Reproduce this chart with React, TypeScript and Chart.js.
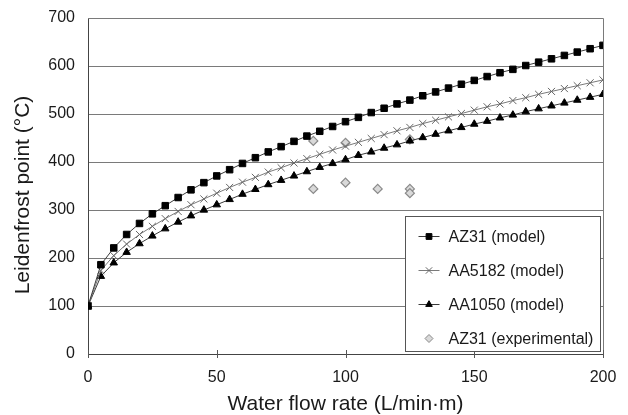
import React, { useEffect, useRef } from 'react';
import { Chart, registerables } from 'chart.js';

Chart.register(...registerables);

// Water flow rate (L/min·m) for model curves
const modelFlow = [0, 5, 10, 15, 20, 25, 30, 35, 40, 45, 50, 55, 60, 65, 70, 75, 80, 85, 90, 95, 100,
  105, 110, 115, 120, 125, 130, 135, 140, 145, 150, 155, 160, 165, 170, 175, 180, 185, 190, 195, 200];

const az31Model = [100, 186, 221, 249, 272, 292, 309, 326, 342, 357, 371, 384, 397, 409, 421, 432, 443, 454, 464, 474, 484,
  493, 503, 512, 521, 529, 538, 546, 554, 562, 570, 578, 586, 593, 601, 608, 615, 622, 629, 636, 643];

const aa5182Model = [100, 174, 205, 229, 249, 266, 282, 297, 311, 323, 335, 347, 358, 368, 379, 388, 398, 407, 416, 425, 433,
  441, 449, 457, 465, 472, 480, 487, 494, 501, 508, 515, 521, 528, 534, 541, 547, 553, 559, 565, 571];

const aa1050Model = [100, 162, 190, 212, 230, 246, 261, 275, 288, 300, 311, 322, 333, 343, 353, 362, 371, 380, 389, 397, 405,
  414, 421, 429, 436, 444, 451, 458, 465, 472, 479, 485, 492, 498, 505, 511, 517, 523, 529, 535, 541];

const expFlow = [87.5, 87.5, 100, 100, 112.5, 125, 125, 125];
const az31Exp = [444, 344, 440, 357, 344, 447, 344, 335];

const seriesLabels = ['AZ31 (model)', 'AA5182 (model)', 'AA1050 (model)', 'AZ31 (experimental)'];
const xTickValues = [0, 50, 100, 150, 200];
const yTickValues = [0, 100, 200, 300, 400, 500, 600, 700];
const xTitle = 'Water flow rate (L/min·m)';
const yTitle = 'Leidenfrost point (°C)';

const FONT = '"Liberation Sans", Arial, sans-serif';

function toPoints(xs: number[], ys: number[]) {
  return xs.map((x, i) => ({ x, y: ys[i] }));
}

function drawMarker(ctx: CanvasRenderingContext2D, style: string, x: number, y: number, r: number, fill: string, stroke: string) {
  ctx.save();
  ctx.fillStyle = fill;
  ctx.strokeStyle = stroke;
  ctx.lineWidth = 1;
  ctx.beginPath();
  if (style === 'rect') {
    const s = r * Math.SQRT1_2;
    ctx.rect(x - s, y - s, 2 * s, 2 * s);
    ctx.fill();
    ctx.stroke();
  } else if (style === 'triangle') {
    ctx.moveTo(x, y - r);
    ctx.lineTo(x + r * 0.866, y + r * 0.5);
    ctx.lineTo(x - r * 0.866, y + r * 0.5);
    ctx.closePath();
    ctx.fill();
    ctx.stroke();
  } else if (style === 'crossRot') {
    const s = r * Math.SQRT1_2;
    ctx.moveTo(x - s, y - s);
    ctx.lineTo(x + s, y + s);
    ctx.moveTo(x - s, y + s);
    ctx.lineTo(x + s, y - s);
    ctx.stroke();
  } else if (style === 'rectRot') {
    ctx.moveTo(x, y - r);
    ctx.lineTo(x + r, y);
    ctx.lineTo(x, y + r);
    ctx.lineTo(x - r, y);
    ctx.closePath();
    ctx.fill();
    ctx.stroke();
  }
  ctx.restore();
}

const framePlugin = {
  id: 'framePlugin',
  beforeDatasetsDraw(chart: any) {
    const { ctx, chartArea } = chart;
    const { left, right, top, bottom } = chartArea;
    ctx.save();
    ctx.strokeStyle = '#7a7a7a';
    ctx.lineWidth = 1;
    ctx.beginPath();
    ctx.moveTo(left, Math.round(top) + 0.5);
    ctx.lineTo(Math.round(right) + 0.5, Math.round(top) + 0.5);
    ctx.lineTo(Math.round(right) + 0.5, bottom);
    ctx.stroke();
    // x tick marks crossing the axis
    const xs = chart.scales.x;
    ctx.strokeStyle = '#555';
    ctx.beginPath();
    xTickValues.forEach((v) => {
      const px = Math.round(xs.getPixelForValue(v)) + 0.5;
      ctx.moveTo(px, bottom - 4);
      ctx.lineTo(px, bottom + 4);
    });
    ctx.stroke();
    ctx.restore();
  },
  afterDraw(chart: any) {
    const { ctx, chartArea } = chart;
    // y axis title
    ctx.save();
    ctx.fillStyle = '#1a1a1a';
    ctx.font = '21px ' + FONT;
    ctx.textAlign = 'center';
    ctx.textBaseline = 'middle';
    ctx.translate(23, (chartArea.top + chartArea.bottom) / 2 + 9);
    ctx.rotate(-Math.PI / 2);
    ctx.fillText(yTitle, 0, 0);
    ctx.restore();

    // legend box
    const w = 195;
    const h = 135;
    const bx = Math.round(chartArea.right) - 3 - w + 0.5;
    const by = Math.round(chartArea.bottom) - 3 - h + 0.5;
    ctx.save();
    ctx.fillStyle = '#ffffff';
    ctx.fillRect(bx, by, w, h);
    ctx.strokeStyle = '#555';
    ctx.lineWidth = 1;
    ctx.strokeRect(bx, by, w, h);
    ctx.font = '16px ' + FONT;
    ctx.textBaseline = 'middle';
    ctx.textAlign = 'left';
    chart.data.datasets.forEach((ds: any, i: number) => {
      const cy = by + 20 + i * 34;
      const lx0 = bx + 13;
      const lx1 = bx + 34;
      const cx = (lx0 + lx1) / 2;
      if (ds.showLine) {
        ctx.strokeStyle = ds.borderColor;
        ctx.lineWidth = 1;
        ctx.beginPath();
        ctx.moveTo(lx0, cy);
        ctx.lineTo(lx1, cy);
        ctx.stroke();
      }
      drawMarker(ctx, ds.pointStyle, cx, cy, ds.pointRadius - 0.5, ds.pointBackgroundColor, ds.pointBorderColor);
      ctx.fillStyle = '#1a1a1a';
      ctx.fillText(ds.label, bx + 43, cy + 1);
    });
    ctx.restore();
  },
};

export default function App() {
  const canvasRef = useRef<HTMLCanvasElement>(null);

  useEffect(() => {
    const canvas = canvasRef.current;
    if (!canvas) return;
    const chart = new Chart(canvas, {
      type: 'scatter',
      data: {
        datasets: [
          {
            label: seriesLabels[0],
            data: toPoints(modelFlow, az31Model),
            showLine: true,
            borderColor: '#3a3a3a',
            borderWidth: 1,
            pointStyle: 'rect',
            pointRadius: 4.6,
            pointBackgroundColor: '#000000',
            pointBorderColor: '#000000',
            pointBorderWidth: 1,
          },
          {
            label: seriesLabels[1],
            data: toPoints(modelFlow, aa5182Model),
            showLine: true,
            borderColor: '#7a7a7a',
            borderWidth: 1,
            pointStyle: 'crossRot',
            pointRadius: 5,
            pointBackgroundColor: '#666666',
            pointBorderColor: '#666666',
            pointBorderWidth: 1,
          },
          {
            label: seriesLabels[2],
            data: toPoints(modelFlow, aa1050Model),
            showLine: true,
            borderColor: '#3a3a3a',
            borderWidth: 1,
            pointStyle: 'triangle',
            pointRadius: 4.3,
            pointBackgroundColor: '#000000',
            pointBorderColor: '#000000',
            pointBorderWidth: 1,
          },
          {
            label: seriesLabels[3],
            data: toPoints(expFlow, az31Exp),
            showLine: false,
            borderColor: '#8a8a8a',
            pointStyle: 'rectRot',
            pointRadius: 4.5,
            pointBackgroundColor: '#d9d9d9',
            pointBorderColor: '#8a8a8a',
            pointBorderWidth: 1.2,
          },
        ],
      },
      options: {
        responsive: false,
        animation: false,
        devicePixelRatio: 1,
        layout: { padding: { left: 0, top: 18, right: 25, bottom: 0 } },
        plugins: {
          legend: { display: false },
          tooltip: { enabled: false },
        },
        scales: {
          x: {
            type: 'linear',
            min: 0,
            max: 200,
            afterBuildTicks: (scale: any) => {
              scale.ticks = xTickValues.map((v) => ({ value: v }));
            },
            ticks: {
              color: '#1a1a1a',
              font: { family: FONT, size: 16 },
              padding: 14,
              maxRotation: 0,
            },
            grid: { display: false, drawTicks: false },
            border: { display: true, color: '#444444', width: 1 },
            title: {
              display: true,
              text: xTitle,
              color: '#1a1a1a',
              font: { family: FONT, size: 21, lineHeight: 1 },
              padding: { top: 0, bottom: 0 },
            },
            afterFit: (scale: any) => {
              scale.height = 61;
              scale.paddingLeft = 0;
              scale.paddingRight = 0;
            },
          },
          y: {
            type: 'linear',
            min: 0,
            max: 700,
            afterBuildTicks: (scale: any) => {
              scale.ticks = yTickValues.map((v) => ({ value: v }));
            },
            ticks: {
              color: '#1a1a1a',
              font: { family: FONT, size: 16 },
              padding: 13,
            },
            grid: { color: '#7a7a7a', lineWidth: 1, drawTicks: false },
            border: { display: true, color: '#444444', width: 1 },
            afterFit: (scale: any) => {
              scale.width = 88;
              scale.paddingTop = 0;
              scale.paddingBottom = 0;
            },
          },
        },
      },
      plugins: [framePlugin],
    } as any);
    return () => chart.destroy();
  }, []);

  return (
    <div style={{ position: 'fixed', left: 0, top: 0, width: 628, height: 415, background: '#fff' }}>
      <canvas ref={canvasRef} width={628} height={415} style={{ width: 628, height: 415, display: 'block' }} />
    </div>
  );
}
